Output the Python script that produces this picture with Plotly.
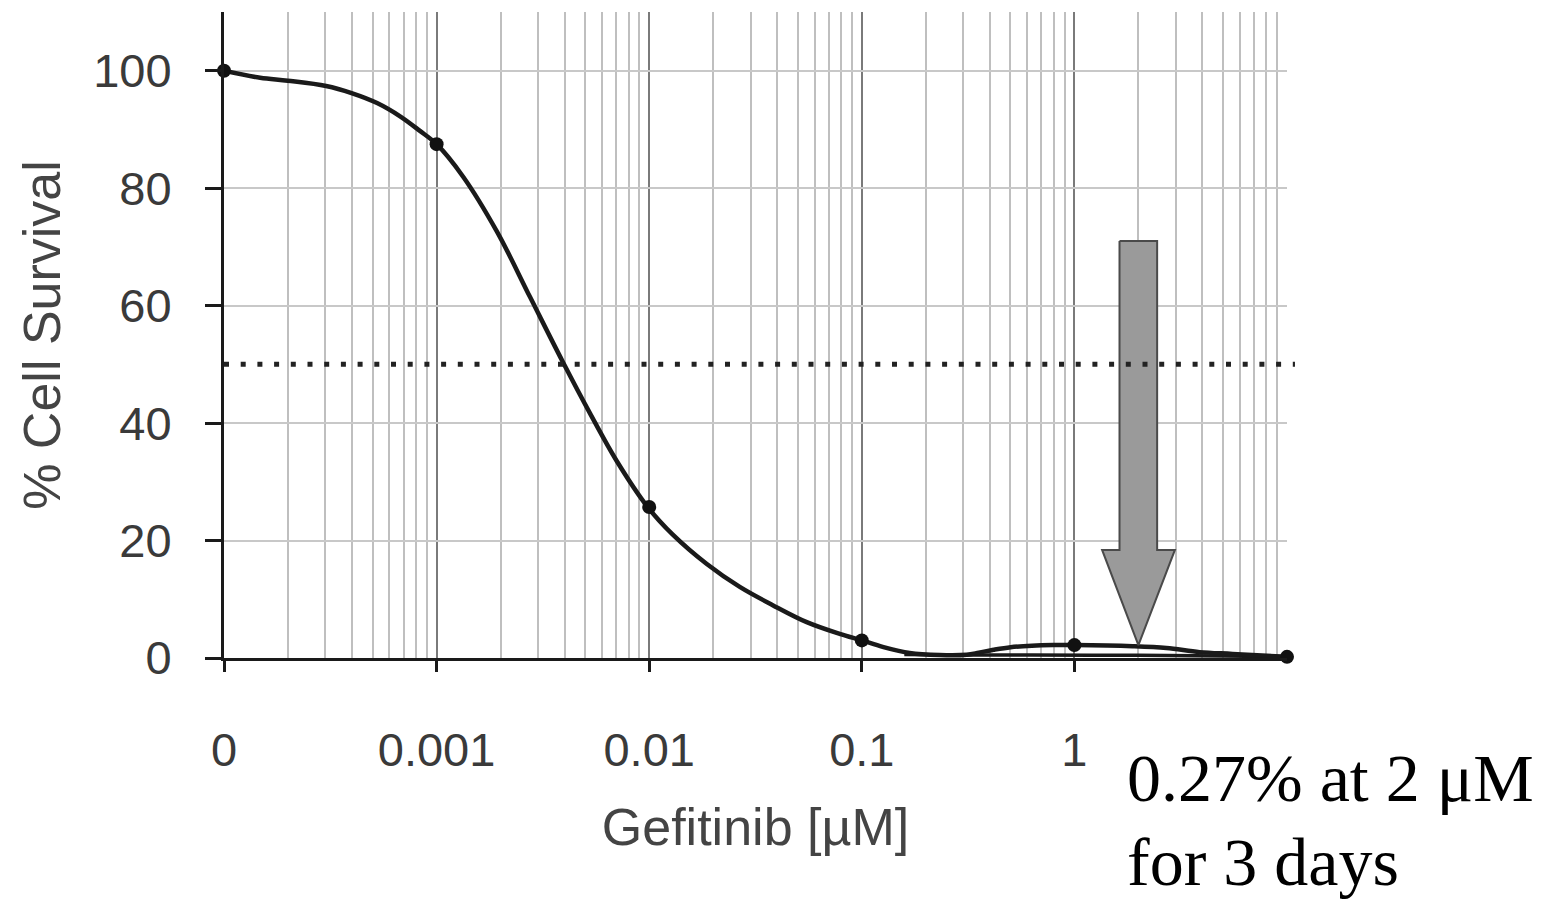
import plotly.graph_objects as go

# ---- data ----
conc = [0.0001, 0.001, 0.01, 0.1, 1, 10]
survival = [100, 87.5, 25.7, 3.0, 2.2, 0.2]

# fitted curve through the points
curve_logx = [-4.0, -3.83, -3.70, -3.52, -3.40, -3.28, -3.17, -3.08, -3.0, -2.876, -2.716,
              -2.561, -2.406, -2.279, -2.152, -2.007, -1.889, -1.729, -1.574, -1.419, -1.259,
              -1.104, -1.0, -0.902, -0.775, -0.634, -0.507, -0.45, -0.38, -0.30, -0.20, -0.10,
              0.0, 0.274, 0.433, 0.589, 0.744, 1.0]
curve_y = [100, 98.8, 98.3, 97.4, 96.2, 94.5, 92.2, 89.8, 87.5, 82.0, 72.6,
           61.5, 50.4, 41.7, 33.5, 25.7, 21.0, 16.0, 12.1, 9.0, 6.1,
           4.1, 3.0, 1.9, 0.85, 0.5, 0.55, 0.9, 1.4, 1.85, 2.1, 2.2,
           2.2, 2.0, 1.7, 1.0, 0.7, 0.2]

# lower near-zero line
low_logx = [-0.80, -0.50, -0.20, 0.30, 0.70, 1.0]
low_y = [0.6, 0.5, 0.5, 0.45, 0.35, 0.2]

half_max = 50
x_tickvals = [0.0001, 0.001, 0.01, 0.1, 1]
x_ticktext = ["0", "0.001", "0.01", "0.1", "1"]
y_tickvals = [0, 20, 40, 60, 80, 100]

# arrow (annotation graphic) at 2 µM
arrow_x = [1.63, 2.45, 2.45, 2.97, 2.0, 1.35, 1.63, 1.63]
arrow_y = [71.0, 71.0, 18.4, 18.4, 2.2, 18.4, 18.4, 71.0]

minor_vals = [m * 10 ** e for e in range(-4, 1) for m in range(2, 10)]

SANS = "Liberation Sans, Arial, sans-serif"
SERIF = "Liberation Serif, Times New Roman, serif"

fig = go.Figure()

fig.add_trace(go.Scatter(x=[10 ** v for v in low_logx], y=low_y, mode="lines",
                         line=dict(color="#1a1a1a", width=3.5, shape="spline"),
                         hoverinfo="skip", showlegend=False))
fig.add_trace(go.Scatter(x=[10 ** v for v in curve_logx], y=curve_y, mode="lines",
                         line=dict(color="#1a1a1a", width=4.5, shape="spline", smoothing=1.0),
                         showlegend=False))
fig.add_trace(go.Scatter(x=arrow_x, y=arrow_y, mode="lines", fill="toself",
                         fillcolor="#9a9a9a", line=dict(color="#4a4a4a", width=2),
                         hoverinfo="skip", showlegend=False))
fig.add_trace(go.Scatter(x=conc, y=survival, mode="markers",
                         marker=dict(color="#111111", size=14), cliponaxis=False,
                         showlegend=False))

fig.add_shape(type="line", xref="paper", yref="y", x0=0, x1=1.0075, y0=half_max, y1=half_max,
              line=dict(color="#222222", width=5, dash="5px,11.7px"), layer="above")

fig.add_annotation(text="0.27% at 2 μM", xref="paper", yref="paper", x=0.848, y=-0.185,
                   xanchor="left", yanchor="middle", showarrow=False,
                   font=dict(family=SERIF, size=68, color="#000000"))
fig.add_annotation(text="for 3 days", xref="paper", yref="paper", x=0.848, y=-0.316,
                   xanchor="left", yanchor="middle", showarrow=False,
                   font=dict(family=SERIF, size=68, color="#000000"))

fig.update_layout(
    width=1548, height=901,
    margin=dict(l=224, r=261, t=12, b=243),
    paper_bgcolor="white", plot_bgcolor="white",
    font=dict(family=SANS, color="#3a3a3a"),
    xaxis=dict(
        type="log", range=[-4, 1],
        tickmode="array", tickvals=x_tickvals, ticktext=x_ticktext,
        ticks="outside", ticklen=11, tickwidth=3, tickcolor="#1a1a1a",
        showline=True, linecolor="#1a1a1a", linewidth=3,
        showgrid=True, gridcolor="#7a7a7a", gridwidth=2,
        minor=dict(tickmode="array", tickvals=minor_vals, showgrid=True,
                   gridcolor="#bfbfbf", gridwidth=1.8, ticks=""),
        zeroline=False,
        tickfont=dict(size=47, color="#3a3a3a"),
        ticklabelstandoff=38,
        title=dict(text="Gefitinib [µM]", font=dict(size=52, color="#444444"), standoff=34),
    ),
    yaxis=dict(
        range=[0, 110],
        tickmode="array", tickvals=y_tickvals,
        ticks="outside", ticklen=16, tickwidth=3, tickcolor="#1a1a1a",
        showline=True, linecolor="#1a1a1a", linewidth=3,
        showgrid=True, gridcolor="#c8c8c8", gridwidth=2,
        zeroline=False,
        tickfont=dict(size=47, color="#3a3a3a"),
        ticklabelstandoff=24,
        title=dict(text="% Cell Survival", font=dict(size=52, color="#444444"), standoff=16),
    ),
)

fig.write_html("out.html")
